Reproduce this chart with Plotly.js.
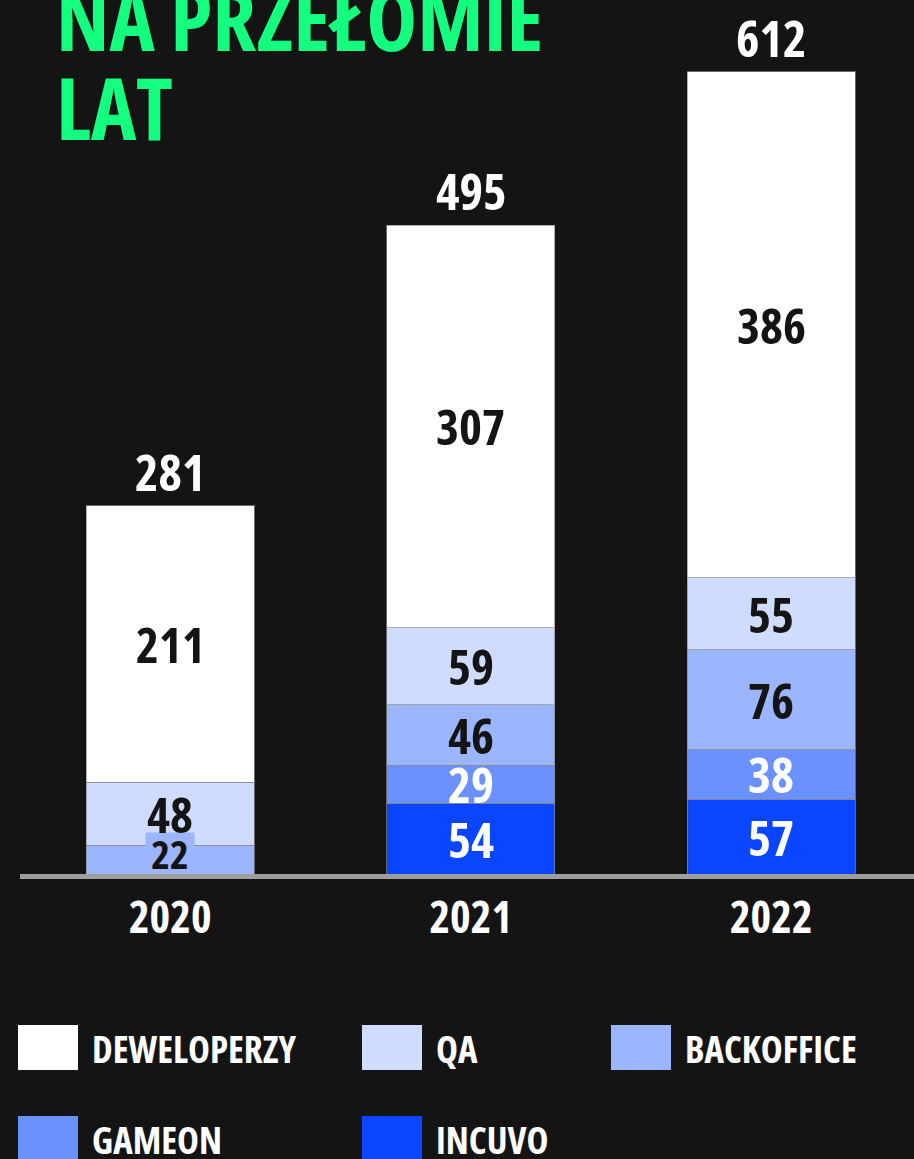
<!DOCTYPE html>
<html><head><meta charset="utf-8">
<script src="https://cdn.plot.ly/plotly-3.0.1.min.js"></script>
<style>html,body{margin:0;padding:0;background:#141414;overflow:hidden}</style>
</head><body><div id="chart" style="width:914px;height:1159px"></div>
<script>
// ---- data ----
const years = ['2020', '2021', '2022'];
const seriesNames = ['DEWELOPERZY', 'QA', 'BACKOFFICE', 'GAMEON', 'INCUVO'];
const deweloperzy = [211, 307, 386];
const qa = [48, 59, 55];
const backoffice = [22, 46, 76];
const gameon = [0, 29, 38];
const incuvo = [0, 54, 57];
const totals = [281, 495, 612];
const titleLines = ['NA PRZEŁOMIE', 'LAT'];

// ---- styles ----
const seriesValues = [deweloperzy, qa, backoffice, gameon, incuvo];
const colors = ['#ffffff', '#d0dcff', '#9cb5ff', '#6b91ff', '#0a45ff'];
const labelColors = ['#141414', '#141414', '#141414', '#ffffff', '#ffffff'];

function measure(family, stretch) {
  const s = document.createElement('span');
  s.style.cssText = 'font-family:' + family + ';font-size:100px;font-weight:700;font-stretch:' + stretch +
    ';position:absolute;visibility:hidden;white-space:nowrap';
  s.textContent = 'DEWELOPERZY 2020';
  document.body.appendChild(s);
  const w = s.getBoundingClientRect().width; s.remove(); return w;
}
const condOK = measure('"Open Sans"', '75%') < 0.9 * measure('"Open Sans"', '100%');
if (condOK) {
  const st = document.createElement('style');
  st.textContent = 'svg text{font-stretch:75%}';
  document.head.appendChild(st);
}
const FAM = condOK ? '"Open Sans", sans-serif' : '"Liberation Sans", sans-serif';
const SEGFAM = condOK ? '"Open Sans", sans-serif' : 'Roboto, sans-serif';
const F = condOK
  ? {title: 86, total: 50, tick: 44, legend: 37, seg: 49, small: 40, desc: 0.293}
  : {title: 72, total: 46, tick: 42, legend: 30, seg: 44, small: 36, desc: 0.212};

const W = 914, H = 1159, plotL = 20, plotR = 914, plotT = 0, plotB = 874;
const yMax = 666.9;
const pxPerUnit = (plotB - plotT) / yMax;
const xp = px => (px - plotL) / (plotR - plotL);
const yp = py => (plotB - py) / (plotB - plotT);

// stack bottom -> top : INCUVO, GAMEON, BACKOFFICE, QA, DEWELOPERZY
const order = [4, 3, 2, 1, 0];
const traces = order.map(i => ({
  type: 'bar', x: years, y: seriesValues[i], name: seriesNames[i],
  marker: {color: colors[i], line: {color: 'rgba(140,140,140,0.7)', width: 1}},
  hoverinfo: 'skip', showlegend: false
}));

const annotations = [];
years.forEach((yr, k) => {
  let base = 0;
  order.forEach(i => {
    const v = seriesValues[i][k];
    if (v > 0) {
      const tooSmall = v * pxPerUnit < 32;
      annotations.push(tooSmall
        ? {x: k, y: base, xref: 'x', yref: 'y', text: String(v),
           showarrow: false, xanchor: 'center', yanchor: 'bottom', borderpad: 0,
           bgcolor: colors[i], width: 48, height: 40, yshift: 0,
           font: {family: SEGFAM, size: F.small, color: labelColors[i], weight: 700}}
        : {x: k, y: base + v / 2, xref: 'x', yref: 'y', text: String(v),
           showarrow: false, xanchor: 'center', yanchor: 'middle',
           font: {family: SEGFAM, size: F.seg, color: labelColors[i], weight: 700}});
    }
    base += v;
  });
  annotations.push({x: k, y: totals[k], xref: 'x', yref: 'y', text: String(totals[k]),
    showarrow: false, xanchor: 'center', yanchor: 'bottom', yshift: -2,
    font: {family: FAM, size: F.total, color: '#ffffff', weight: 700}});
});
const titleBaselines = [52, 141];
titleLines.forEach((t, j) => {
  annotations.push({x: xp(54), y: yp(titleBaselines[j] + F.desc * F.title + 1), xref: 'paper', yref: 'paper',
    text: t, showarrow: false, xanchor: 'left', yanchor: 'bottom',
    font: {family: FAM, size: F.title, color: '#14ff80', weight: 700}});
});
const slots = [[18, 1025], [362, 1025], [611, 1025], [18, 1116], [362, 1116]];
const shapes = [];
seriesNames.forEach((n, i) => {
  const [sx, sy] = slots[i];
  shapes.push({type: 'rect', xref: 'paper', yref: 'paper',
    x0: xp(sx), x1: xp(sx + 60), y0: yp(sy), y1: yp(sy + 45),
    fillcolor: colors[i], line: {width: 0}});
  annotations.push({x: xp(sx + 72), y: yp(sy + 23), xref: 'paper', yref: 'paper', text: n,
    showarrow: false, xanchor: 'left', yanchor: 'middle',
    font: {family: FAM, size: F.legend, color: '#ffffff', weight: 700}});
});

const layout = {
  width: W, height: H,
  paper_bgcolor: '#141414', plot_bgcolor: '#141414',
  margin: {l: plotL, r: W - plotR, t: plotT, b: H - plotB, pad: 0},
  barmode: 'stack', bargap: 0.44,
  showlegend: false,
  xaxis: {type: 'category', range: [-0.5, 2.475], showgrid: false, zeroline: false,
    showline: true, linecolor: '#9e9e9e', linewidth: 5, ticks: '',
    ticklabelstandoff: 1,
    tickfont: {family: FAM, size: F.tick, color: '#ffffff', weight: 700}, fixedrange: true},
  yaxis: {range: [0, yMax], showgrid: false, zeroline: false, showline: false,
    showticklabels: false, ticks: '', fixedrange: true},
  annotations: annotations,
  shapes: shapes
};
Plotly.newPlot('chart', traces, layout, {staticPlot: true, displayModeBar: false});
</script></body></html>
